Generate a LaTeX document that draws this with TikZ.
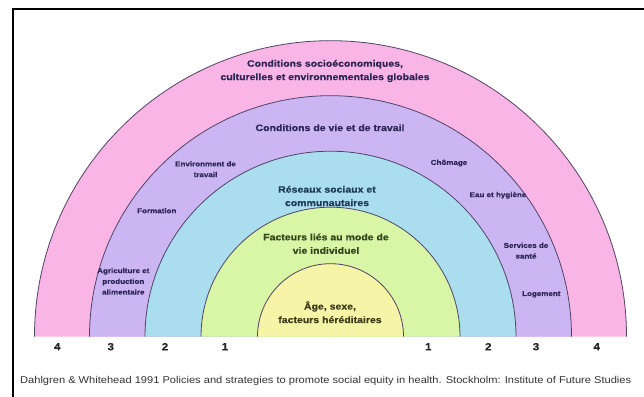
\documentclass[tikz,border=0pt]{standalone}
\usepackage{fontspec}
\setmainfont{Liberation Sans}
\newfontfamily\capfont{Liberation Sans}[FakeStretch=1.12]
\newfontfamily\lblfont{Liberation Sans}[FakeStretch=1.13, BoldFeatures={FakeBold=0.35}]
\definecolor{pinkL}{HTML}{F9B5E6}
\definecolor{purpL}{HTML}{CBB5F3}
\definecolor{blueL}{HTML}{AADDEE}
\definecolor{greenL}{HTML}{D8F6A6}
\definecolor{yellL}{HTML}{F6F4A6}
\definecolor{edgeC}{HTML}{4F4466}
\definecolor{txtP}{HTML}{2C2655}
\definecolor{txtB}{HTML}{1F3A58}
\definecolor{txtG}{HTML}{34451C}
\definecolor{txtY}{HTML}{3E3A1E}
\tikzset{
  bigtxt/.style={font=\lblfont\bfseries\fontsize{9.3}{13.4}\selectfont, align=center, inner sep=0pt},
  smalltxt/.style={font=\lblfont\bfseries\fontsize{7.1}{10.7}\selectfont, align=center, inner sep=0pt, text=txtP},
  numtxt/.style={font=\lblfont\bfseries\fontsize{10.3}{11}\selectfont, inner sep=0pt, text=black!85},
  captxt/.style={font=\capfont\fontsize{9.9}{12}\selectfont, inner sep=0pt, text=black!80, anchor=west},
  arcline/.style={draw=edgeC, line width=0.8pt}
}
\begin{document}
\begin{tikzpicture}[x=1pt,y=1pt]
\useasboundingbox (0,0) rectangle (644,396);
\fill[white] (0,0) rectangle (644,396);
% frame
\draw[line width=2pt, black] (13,-2) -- (13,387) -- (646,387);
% arches
\foreach \r/\c in {296/pinkL,241/purpL,185.5/blueL,129.5/greenL,73/yellL}{
  \fill[\c] (330.5-\r,59.3) arc[start angle=180,end angle=0,radius=\r] -- cycle;
  \draw[arcline] (330.5-\r,59.3) arc[start angle=180,end angle=0,radius=\r];
}
% main labels
\node[bigtxt, text=txtP] (l4) at (325,325) {Conditions socioéconomiques,\\culturelles et environnementales globales};
\node[bigtxt, text=txtP] (l3) at (330,268.3) {Conditions de vie et de travail};
\node[bigtxt, text=txtB] (l2) at (327,200) {Réseaux sociaux et\\communautaires};
\node[bigtxt, text=txtG] (l1) at (326,152.3) {Facteurs liés au mode de\\vie individuel};
\node[bigtxt, text=txtY] (l0) at (330,83.8) {Âge, sexe,\\facteurs héréditaires};
% side labels
\node[smalltxt] (env) at (205.5,226.8) {Environment de\\travail};
\node[smalltxt] (form) at (156.8,185.3) {Formation};
\node[smalltxt] (agri) at (123.3,114.7) {Agriculture et\\production\\alimentaire};
\node[smalltxt] (chom) at (449,233) {Chômage};
\node[smalltxt] (eau) at (498,200.7) {Eau et hygiène};
\node[smalltxt] (serv) at (526,145.3) {Services de\\santé};
\node[smalltxt] (loge) at (541.3,101.7) {Logement};
% numbers
\node[numtxt] (n4l) at (57.3,49.3) {4};
\node[numtxt] (n3l) at (110.7,49.3) {3};
\node[numtxt] (n2l) at (165,49.3) {2};
\node[numtxt] (n1l) at (225,49.3) {1};
\node[numtxt] (n1r) at (428.3,49.3) {1};
\node[numtxt] (n2r) at (488.3,49.3) {2};
\node[numtxt] (n3r) at (536,49.3) {3};
\node[numtxt] (n4r) at (596.7,49.3) {4};
% caption
\node[captxt] (cap) at (20,15) {Dahlgren \& Whitehead 1991 Policies and strategies to promote social equity in health. Stockholm: Institute of Future Studies};
\end{tikzpicture}
\end{document}
